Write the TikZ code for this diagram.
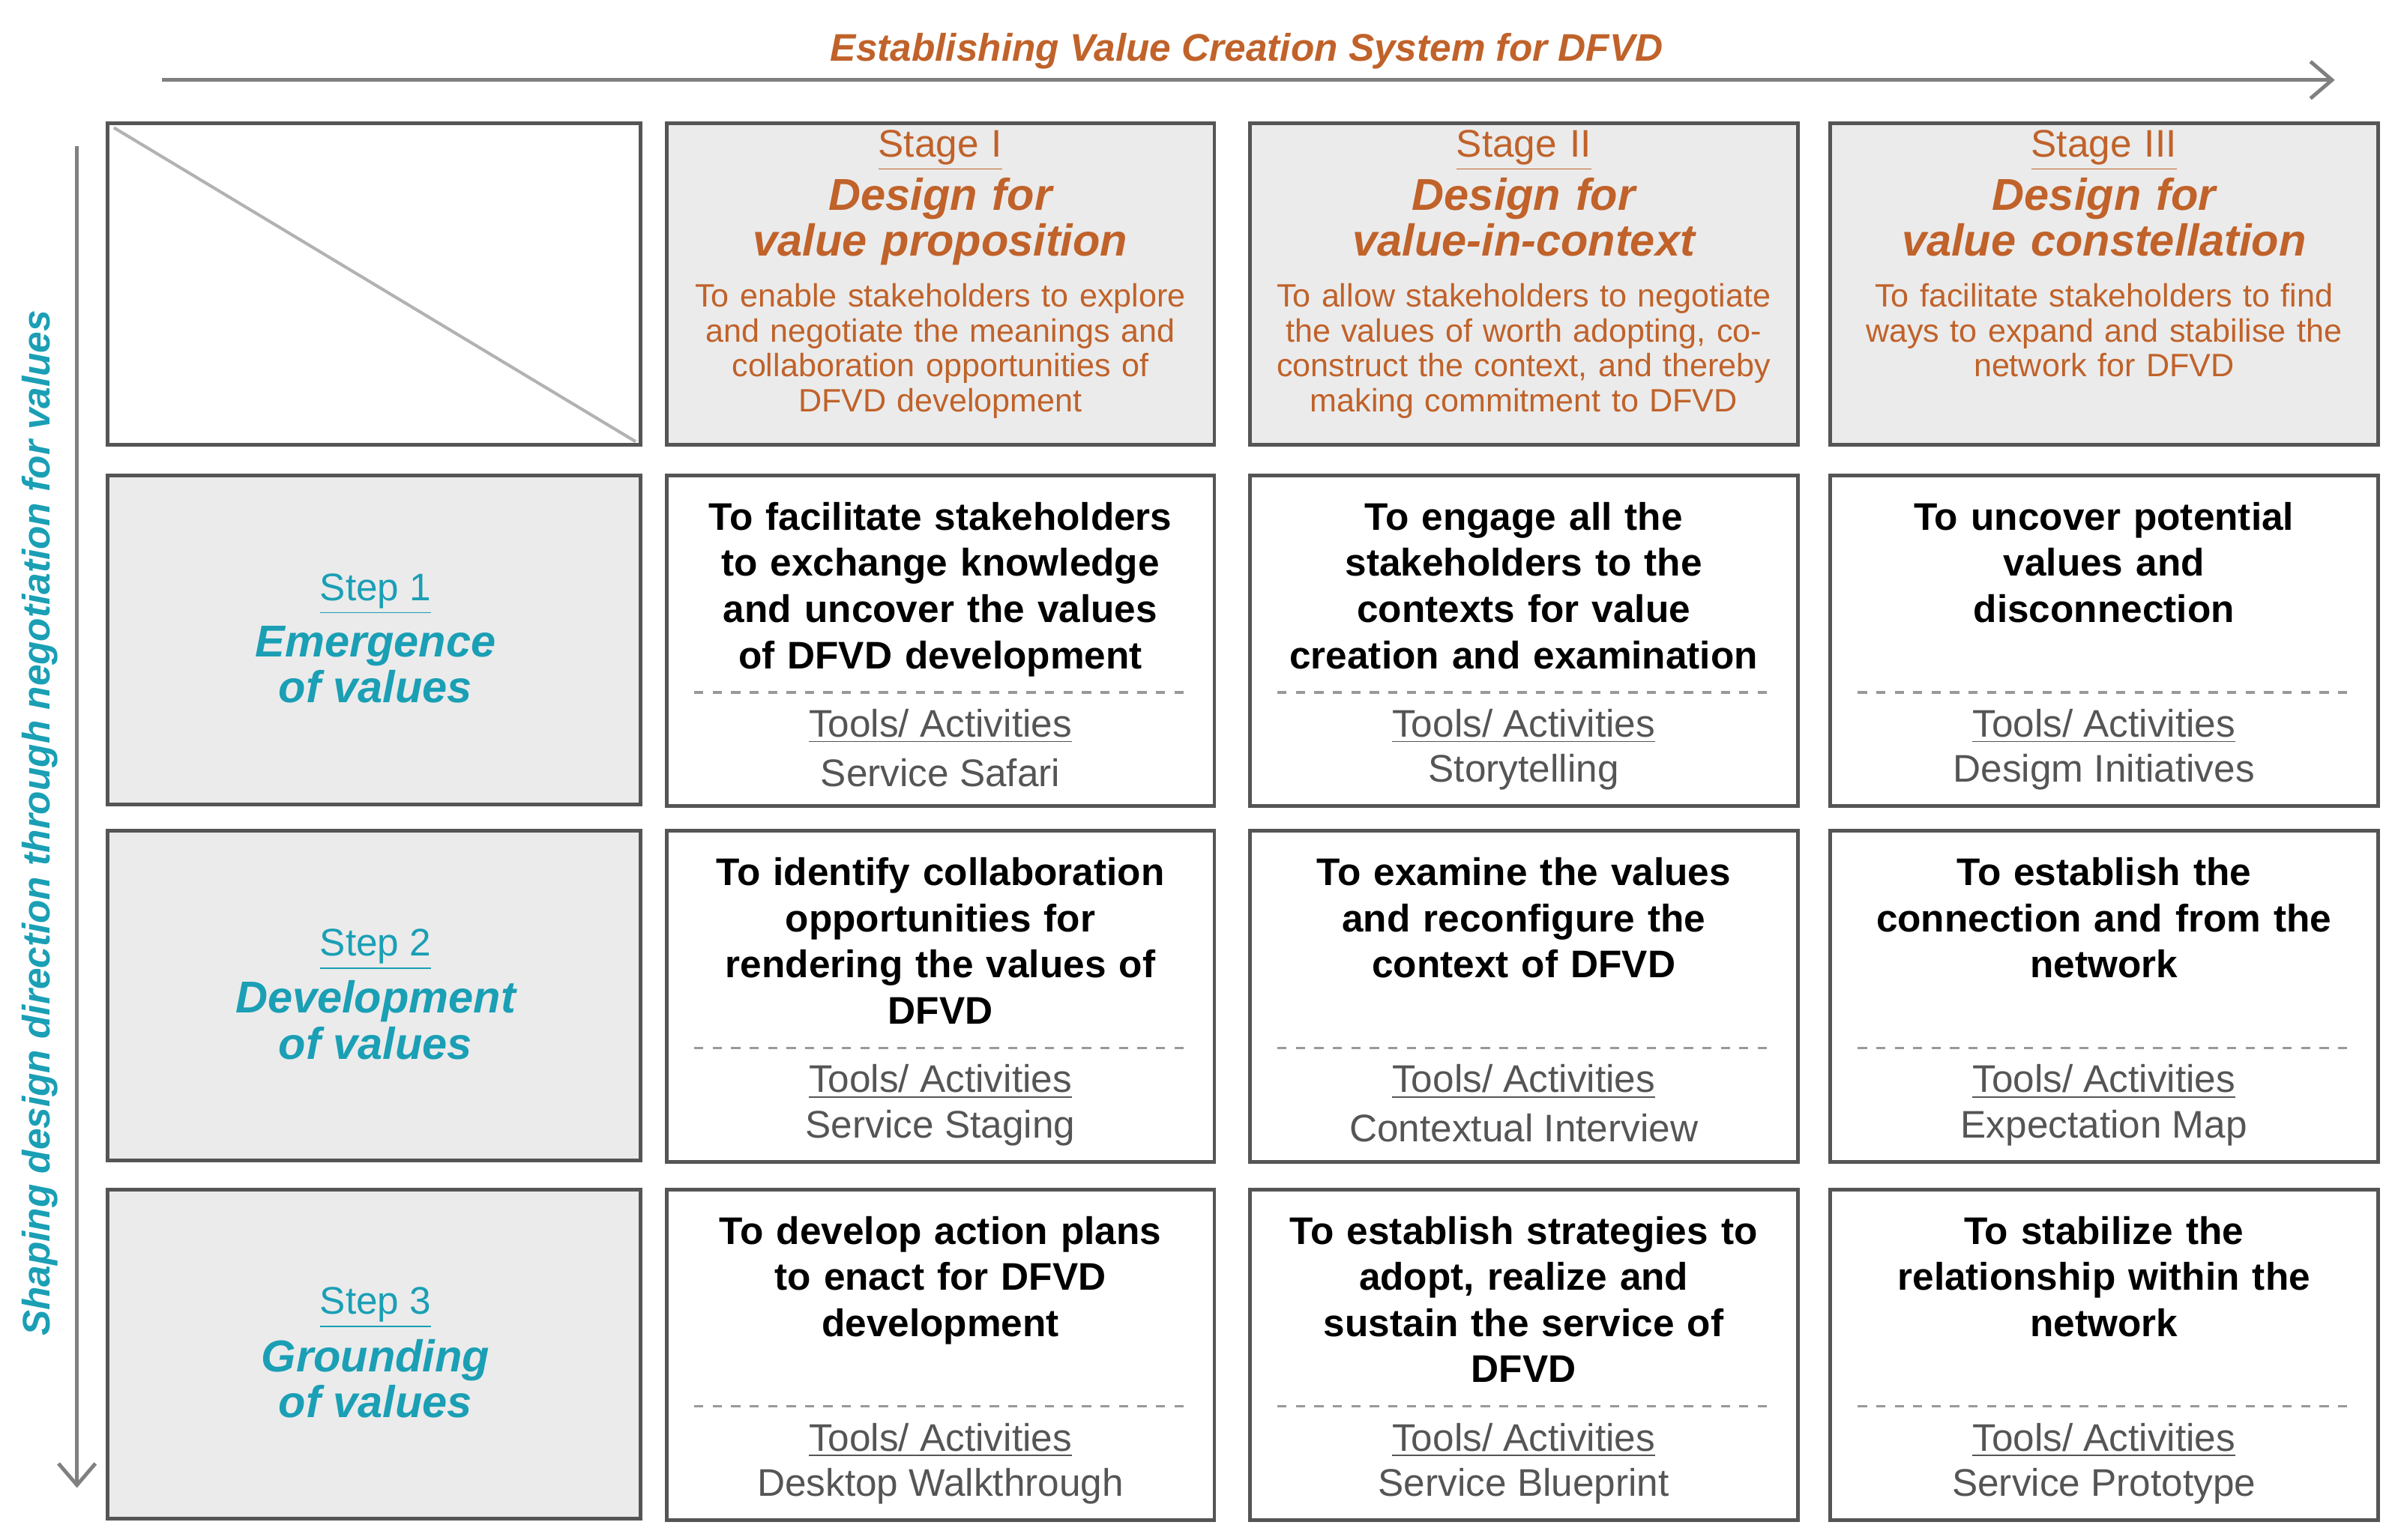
\documentclass[tikz,border=0pt]{standalone}
\usepackage{fontspec}
\setmainfont{Liberation Sans}
\usetikzlibrary{arrows.meta}
\definecolor{org}{HTML}{C0622A}
\definecolor{teal}{HTML}{1A9FB5}
\definecolor{cellfill}{HTML}{EBEBEB}
\definecolor{bord}{HTML}{555555}
\definecolor{txtgray}{HTML}{555555}
\tikzset{
 cellbox/.style={draw=bord,line width=1.2pt},
 graybox/.style={cellbox,fill=cellfill},
 main/.style={anchor=north,align=center,font=\fontsize{12.5}{15}\selectfont\bfseries,text width=170pt,inner sep=0pt},
 tools/.style={anchor=center,font=\fontsize{12.5}{15}\selectfont,text=txtgray,inner sep=0pt},
 sep/.style={draw=gray!80,dashed,line width=0.8pt},
 head/.style={anchor=north,align=center,text=org,inner sep=0pt,text width=175pt},
 steptx/.style={anchor=center,align=center,text=teal,inner sep=0pt},
}
\begin{document}
\begin{tikzpicture}[x=0.5pt,y=-0.5pt]
\useasboundingbox (0,0) rectangle (1560,1000.4);
% arrows
\coordinate (ta) at (105,52); \coordinate (tb) at (1517,52);
\draw[gray,line width=1.2pt,-{Straight Barb[length=7pt,width=12pt]}] (ta) -- (tb);
\node[text=org,font=\fontsize{12.5}{15}\selectfont\bfseries\itshape] (title) at (810,33) {Establishing Value Creation System for DFVD};
\coordinate (la) at (50,95); \coordinate (lb) at (50,967);
\draw[gray,line width=1.2pt,-{Straight Barb[length=7pt,width=12pt]}] (la) -- (lb);
\node[rotate=90,text=teal,font=\fontsize{12.5}{15}\selectfont\bfseries\itshape] (ltitle) at (26,535) {Shaping design direction through negotiation for values};
% top-left
\draw[cellbox] (70,80) rectangle (416,289);
\coordinate (d1) at (74,83); \coordinate (d2) at (413,287);
\draw[gray!60,line width=1pt] (d1) -- (d2);
% headers
\foreach \x/\nm/\a/\b/\c in {611/h1/Stage I/value proposition/{To enable stakeholders to explore\\and negotiate the meanings and\\collaboration opportunities of\\DFVD development},
 990/h2/Stage II/value-in-context/{To allow stakeholders to negotiate\\the values of worth adopting, co-\\construct the context, and thereby\\making commitment to DFVD},
 1367/h3/Stage III/value constellation/{To facilitate stakeholders to find\\ways to expand and stabilise the\\network for DFVD}}{
 \draw[graybox] (\x-178,80) rectangle (\x+178,289);
 \node[head,font=\fontsize{12.5}{15}\selectfont] (\nm a) at (\x,84) {\underline{\a}};
 \node[head,font=\fontsize{14.5}{15}\selectfont\bfseries\itshape] (\nm b) at (\x,115) {Design for\\\b};
 \node[head,font=\fontsize{10.5}{11.3}\selectfont] (\nm c) at (\x,184) {\c};
}
% steps
\foreach \y/\nm/\n/\a/\b in {416/s1/Step 1/Emergence/of values, 647/s2/Step 2/Development/of values, 880/s3/Step 3/Grounding/of values}{
 \draw[graybox] (70,\y-107) rectangle (416,\y+107);
 \node[steptx,font=\fontsize{12.5}{15}\selectfont] (\nm a) at (244,\y-30) {\underline{\n}};
 \node[steptx,font=\fontsize{14.5}{15}\selectfont\bfseries\itshape] (\nm b) at (244,\y+16) {\a\\\b};
}
% cells
\newcommand\mycell[6]{% x, ytop, name, main text, tool, extra
 \draw[cellbox] (#1-178,#2) rectangle (#1+178,#2+215);
 \node[main] (#3m) at (#1,#2+17) {#4};
 \coordinate (#3l) at (#1-160,#2+141); \coordinate (#3r) at (#1+160,#2+141);
 \draw[sep] (#3l) -- (#3r);
 \node[tools] (#3t) at (#1,#2+163) {\underline{Tools/ Activities}};
 \node[tools] (#3n) at (#1,#2+193) {#5};
}
\mycell{611}{309}{c11}{To facilitate stakeholders\\to exchange knowledge\\and uncover the values\\of DFVD development}{Service Safari}{}
\mycell{990}{309}{c12}{To engage all the\\stakeholders to the\\contexts for value\\creation and examination}{Storytelling}{}
\mycell{1367}{309}{c13}{To uncover potential\\values and\\disconnection}{Desigm Initiatives}{}
\mycell{611}{540}{c21}{To identify collaboration\\opportunities for\\rendering the values of\\DFVD}{Service Staging}{}
\mycell{990}{540}{c22}{To examine the values\\and reconfigure the\\context of DFVD}{Contextual Interview}{}
\mycell{1367}{540}{c23}{To establish the\\connection and from the\\network}{Expectation Map}{}
\mycell{611}{773}{c31}{To develop action plans\\to enact for DFVD\\development}{Desktop Walkthrough}{}
\mycell{990}{773}{c32}{To establish strategies to\\adopt, realize and\\sustain the service of\\DFVD}{Service Blueprint}{}
\mycell{1367}{773}{c33}{To stabilize the\\relationship within the\\network}{Service Prototype}{}
\end{tikzpicture}
\end{document}
